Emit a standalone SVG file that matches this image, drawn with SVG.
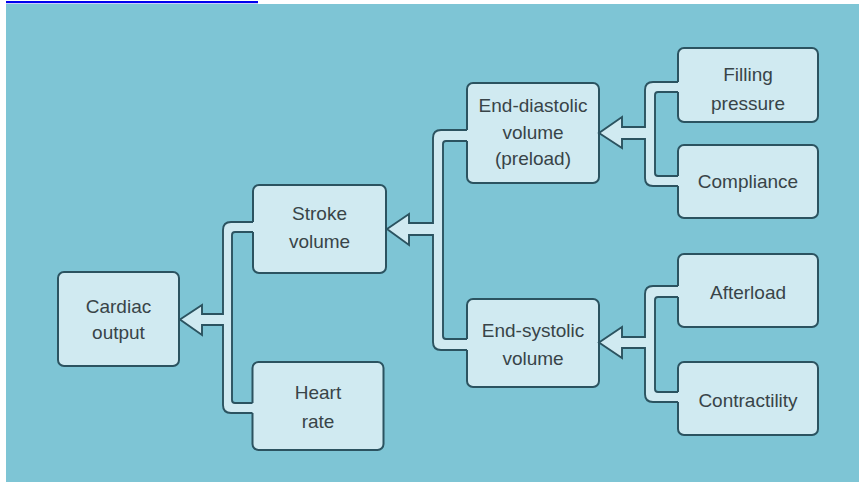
<svg xmlns="http://www.w3.org/2000/svg" width="859" height="484" viewBox="0 0 859 484">
<style>
.box{fill:#D0EAF1;stroke:#2B5360;stroke-width:2}
.band{fill:#D0EAF1;stroke:none}
.edge{fill:none;stroke:#2B5360;stroke-width:1.9;stroke-linejoin:miter}
text{font-family:"Liberation Sans",Arial,sans-serif;font-size:19px;fill:#384448;text-anchor:middle}
</style>
<rect x="0" y="0" width="859" height="484" fill="#FFFFFF"/>
<rect x="6" y="1" width="252" height="2.2" fill="#0000EE"/>
<rect x="6" y="4" width="853" height="478" fill="#7EC5D5"/>

<g id="cardiac-output"><rect class="box" x="58" y="272" width="121" height="94" rx="6"/><text x="118.5" y="313">Cardiac</text><text x="118.5" y="339">output</text></g>
<g id="stroke-volume"><rect class="box" x="253" y="185" width="133" height="88" rx="6"/><text x="319.5" y="220">Stroke</text><text x="319.5" y="248">volume</text></g>
<g id="heart-rate"><rect class="box" x="252.5" y="362" width="131" height="88" rx="6"/><text x="318" y="399">Heart</text><text x="318" y="428">rate</text></g>
<g id="end-diastolic"><rect class="box" x="467" y="83" width="132" height="100" rx="6"/><text x="533" y="112">End-diastolic</text><text x="533" y="139">volume</text><text x="533" y="165">(preload)</text></g>
<g id="end-systolic"><rect class="box" x="467" y="299" width="132" height="88" rx="6"/><text x="533" y="337">End-systolic</text><text x="533" y="365">volume</text></g>
<g id="filling-pressure"><rect class="box" x="678" y="48" width="140" height="74" rx="6"/><text x="748" y="81">Filling</text><text x="748" y="110">pressure</text></g>
<g id="compliance"><rect class="box" x="678" y="145" width="140" height="73" rx="6"/><text x="748" y="188">Compliance</text></g>
<g id="afterload"><rect class="box" x="678" y="254" width="140" height="73" rx="6"/><text x="748" y="299">Afterload</text></g>
<g id="contractility"><rect class="box" x="678" y="362" width="140" height="73" rx="6"/><text x="748" y="407">Contractility</text></g>

<g id="connectors">
<path class="band" d="M256 222 L231 222 Q223 222 223 230 L223 314 L202 314 L202 305 L180 319.5 L202 335 L202 325 L223 325 L223 405 Q223 413 231 413 L255.5 413 L255.5 403 L235 403 Q232 403 232 400 L232 235 Q232 232 235 232 L256 232 Z"/>
<path class="edge" d="M253 222 L231 222 Q223 222 223 230 L223 314 L202 314 L202 305 L180 319.5 L202 335 L202 325 L223 325 L223 405 Q223 413 231 413 L252.5 413"/>
<path class="edge" d="M252.5 403 L235 403 Q232 403 232 400 L232 235 Q232 232 235 232 L253 232"/>
<path class="band" d="M470 130 L441 130 Q433 130 433 138 L433 223 L409 223 L409 214 L387 229 L409 245 L409 235 L433 235 L433 342 Q433 350 441 350 L470 350 L470 339 L446 339 Q443 339 443 336 L443 144 Q443 141 446 141 L470 141 Z"/>
<path class="edge" d="M467 130 L441 130 Q433 130 433 138 L433 223 L409 223 L409 214 L387 229 L409 245 L409 235 L433 235 L433 342 Q433 350 441 350 L467 350"/>
<path class="edge" d="M467 339 L446 339 Q443 339 443 336 L443 144 Q443 141 446 141 L467 141"/>
<path class="band" d="M681 82 L653 82 Q645 82 645 90 L645 127 L622 127 L622 117 L599 133 L622 148 L622 139 L645 139 L645 178 Q645 186 653 186 L681 186 L681 176 L658 176 Q655 176 655 173 L655 95 Q655 92 658 92 L681 92 Z"/>
<path class="edge" d="M678 82 L653 82 Q645 82 645 90 L645 127 L622 127 L622 117 L599 133 L622 148 L622 139 L645 139 L645 178 Q645 186 653 186 L678 186"/>
<path class="edge" d="M678 176 L658 176 Q655 176 655 173 L655 95 Q655 92 658 92 L678 92"/>
<path class="band" d="M681 286 L653 286 Q645 286 645 294 L645 337 L622 337 L622 327 L599 342.5 L622 358 L622 348 L645 348 L645 394 Q645 402 653 402 L681 402 L681 392 L658 392 Q655 392 655 389 L655 300 Q655 297 658 297 L681 297 Z"/>
<path class="edge" d="M678 286 L653 286 Q645 286 645 294 L645 337 L622 337 L622 327 L599 342.5 L622 358 L622 348 L645 348 L645 394 Q645 402 653 402 L678 402"/>
<path class="edge" d="M678 392 L658 392 Q655 392 655 389 L655 300 Q655 297 658 297 L678 297"/>
</g>
</svg>
